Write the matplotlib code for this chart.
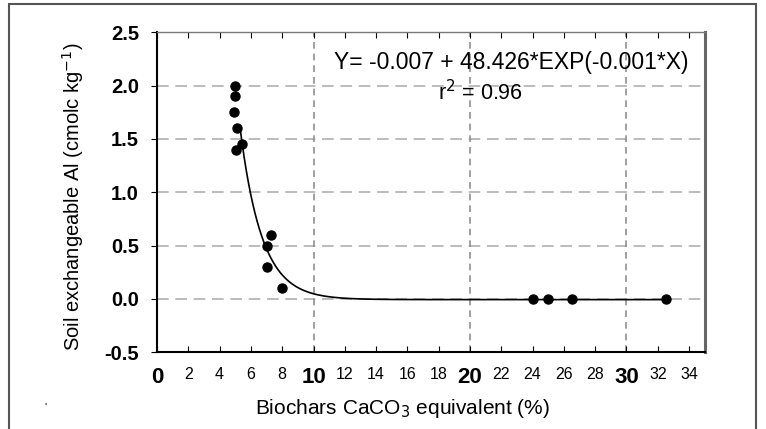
import numpy as np
import matplotlib
matplotlib.use("Agg")
import matplotlib.pyplot as plt
from matplotlib.patches import Rectangle

plt.rcParams['font.family'] = ['Liberation Sans', 'DejaVu Sans']

# observed data
caco3 = [5.0, 5.0, 4.9, 5.1, 5.05, 5.4, 7.0, 7.3, 7.0, 8.0, 24.0, 25.0, 26.5, 32.5]
al = [2.0, 1.9, 1.75, 1.6, 1.4, 1.45, 0.5, 0.6, 0.3, 0.1, 0.0, 0.0, 0.0, 0.0]

# fitted curve parameters (as drawn)
fit_a, fit_b, fit_c = 73.5, 0.72, -0.007
fit_x_start, fit_x_end = 5.3, 32.5

x_ticks = list(range(0, 36, 2))
y_ticks = [-0.5, 0.0, 0.5, 1.0, 1.5, 2.0, 2.5]
y_ticklabels = ["-0.5", "0.0", "0.5", "1.0", "1.5", "2.0", "2.5"]
x_grid = [10, 20, 30]
y_grid = [0.0, 0.5, 1.0, 1.5, 2.0]

eq_text = "Y= -0.007 + 48.426*EXP(-0.001*X)"
r2_text = "r$^2$ = 0.96"

fig = plt.figure(figsize=(7.66, 4.29), dpi=100)
ax = fig.add_axes([0.205, 0.179, 0.715, 0.746])

# outer frame
fig.patches.append(Rectangle((9/766, -0.1), (756-9)/766, 1.1 - 4/429, transform=fig.transFigure,
                             fill=False, edgecolor='#555555', linewidth=1.5))

for g in y_grid:
    ax.axhline(g, color='#b0b0b0', lw=1.2, ls=(0, (7, 4)), zorder=0)
for g in x_grid:
    ax.axvline(g, color='#909090', lw=1.2, ls=(0, (4, 3)), zorder=0)

xf = np.linspace(fit_x_start, fit_x_end, 400)
ax.plot(xf, fit_a * np.exp(-fit_b * xf) + fit_c, color='black', lw=1.2, zorder=2)
ax.plot(caco3, al, 'o', color='black', ms=6.5, zorder=3)

ax.set_xlim(0, 35)
ax.set_ylim(-0.5, 2.5)
ax.set_xticks(x_ticks)
ax.set_xticklabels([str(t) for t in x_ticks])
for lab, t in zip(ax.get_xticklabels(), x_ticks):
    if t % 10 == 0:
        lab.set_fontsize(16)
        lab.set_fontweight('bold')
    else:
        lab.set_fontsize(11.5)
ax.set_yticks(y_ticks)
ax.set_yticklabels(y_ticklabels, fontsize=14.5, fontweight='bold')
ax.tick_params(axis='x', direction='in', length=4, top=True, pad=11)
ax.tick_params(axis='y', direction='out', length=4, pad=9)

ax.spines['left'].set_linewidth(1.5)
ax.spines['bottom'].set_linewidth(1.5)
ax.spines['top'].set_color('#777777')
ax.spines['top'].set_linewidth(1.0)
ax.spines['right'].set_color('#666666')
ax.spines['right'].set_linewidth(2.2)

ax.set_xlabel("Biochars CaCO$_3$ equivalent (%)", fontsize=15, va='center')
ax.xaxis.set_label_coords(0.449, -0.175)
ax.set_ylabel("Soil exchangeable Al (cmolc kg$^{-1}$)", fontsize=14.5, va='center')
ax.yaxis.set_label_coords(-0.153, 0.486)

ax.text(22.65, 2.215, eq_text, fontsize=16.5, ha='center', va='center')
ax.text(20.7, 1.93, r2_text, fontsize=15.5, ha='center', va='center')

fig.text(45/766, 1 - 408/429, "'", fontsize=8, ha='center', va='center')

fig.savefig("out.png", dpi=100)
